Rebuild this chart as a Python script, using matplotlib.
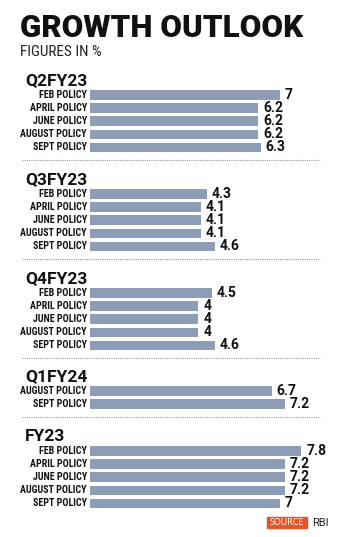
import matplotlib.pyplot as plt
from matplotlib.patches import Rectangle

# RBI growth projections (%) by policy meeting
q2_labels = ["FEB POLICY", "APRIL POLICY", "JUNE POLICY", "AUGUST POLICY", "SEPT POLICY"]
q2_values = [7, 6.2, 6.2, 6.2, 6.3]
q3_labels = ["FEB POLICY", "APRIL POLICY", "JUNE POLICY", "AUGUST POLICY", "SEPT POLICY"]
q3_values = [4.3, 4.1, 4.1, 4.1, 4.6]
q4_labels = ["FEB POLICY", "APRIL POLICY", "JUNE POLICY", "AUGUST POLICY", "SEPT POLICY"]
q4_values = [4.5, 4, 4, 4, 4.6]
q1_labels = ["AUGUST POLICY", "SEPT POLICY"]
q1_values = [6.7, 7.2]
fy_labels = ["FEB POLICY", "APRIL POLICY", "JUNE POLICY", "AUGUST POLICY", "SEPT POLICY"]
fy_values = [7.8, 7.2, 7.2, 7.2, 7]

groups = [("Q2FY23", q2_labels, q2_values),
          ("Q3FY23", q3_labels, q3_values),
          ("Q4FY23", q4_labels, q4_values),
          ("Q1FY24", q1_labels, q1_values),
          ("FY23", fy_labels, fy_values)]

W, H = 350, 537
fig = plt.figure(figsize=(W / 100, H / 100), dpi=100)
fig.patch.set_facecolor("white")

# bars axis: x in %, y in pixels from top
px_per_unit = 27.1
ax = fig.add_axes([90 / W, 0, 1 - 90 / W, 1])
ax.set_xlim(0, (W - 90) / px_per_unit)
ax.set_ylim(H, 0)
ax.axis("off")

bar_color = "#8c9db5"
label_font = dict(family=["Roboto Condensed", "Roboto", "DejaVu Sans"], fontweight="bold")

# shrink the row labels until the longest one fits left of the bars
renderer = fig.canvas.get_renderer()
probe = fig.text(0, 0, "AUGUST POLICY", fontsize=8.8, **label_font)
w = probe.get_window_extent(renderer).width
label_size = min(8.8, 8.8 * 67 / w)
probe.remove()

fig.text(20 / W, 1 - 37 / H, "GROWTH OUTLOOK", fontsize=22.5, fontweight="black",
         family=["Roboto", "DejaVu Sans"], color="#111111", va="baseline")
fig.text(20 / W, 1 - 56 / H, "FIGURES IN %", fontsize=11,
         family=["Roboto Condensed", "Roboto", "DejaVu Sans"],
         color="#222222", va="baseline")

header_tops = [73, 172, 271, 369, 429]
row_step = 13.1
for (name, labels, values), top in zip(groups, header_tops):
    fig.text(25 / W, 1 - (top + 12) / H, name, fontsize=12.5, fontweight="bold",
             family=["Roboto", "DejaVu Sans"], color="#111111", va="baseline")
    first = top + 22
    ys = [first + i * row_step for i in range(len(values))]
    ax.barh(ys, values, height=9.5, color=bar_color, left=0)
    for y, lab, v in zip(ys, labels, values):
        ax.annotate(lab, (0, y), xytext=(-3, 0), textcoords="offset pixels",
                    ha="right", va="center", fontsize=label_size, color="#111111",
                    annotation_clip=False, **label_font)
        ax.annotate(f"{v:g}", (v, y), xytext=(5, 0), textcoords="offset pixels",
                    ha="left", va="center", fontsize=10, fontweight="bold",
                    family=["Roboto", "DejaVu Sans"], color="#111111")
    if name != "FY23":
        sep = ys[-1] + 13
        fig.add_artist(plt.Line2D([22 / W, 320 / W], [1 - sep / H] * 2,
                                  color="#999999", lw=0.8, linestyle=(0, (1, 1))))

# source tag
fig.add_artist(Rectangle((267 / W, 1 - 528 / H), 40 / W, 11 / H,
                         color="#e8542a", transform=fig.transFigure))
fig.text(287 / W, 1 - 522.5 / H, "SOURCE", fontsize=6.5, color="white",
         ha="center", va="center", family=["Open Sans", "DejaVu Sans"])
fig.text(312 / W, 1 - 522.5 / H, "RBI", fontsize=8, color="#222222",
         ha="left", va="center", family=["Roboto", "DejaVu Sans"])

fig.savefig("out.png", dpi=100)
